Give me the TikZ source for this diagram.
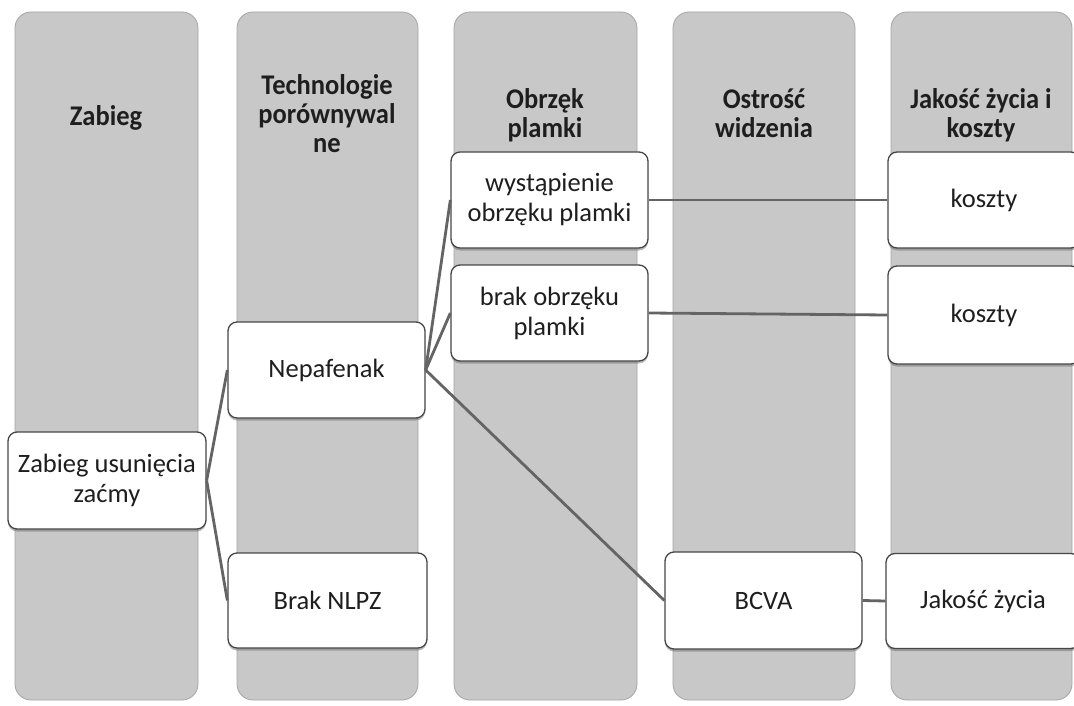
\documentclass[tikz,border=0pt]{standalone}
\usepackage{fontspec}
\setmainfont{Carlito}
\newfontfamily\headfont[FakeStretch=0.93]{Carlito}
\usetikzlibrary{shadows}
\definecolor{colfill}{RGB}{200,200,200}
\definecolor{colborder}{RGB}{165,165,165}
\definecolor{boxborder}{RGB}{70,70,70}
\definecolor{linkcol}{RGB}{100,100,100}
\definecolor{txt}{RGB}{30,30,30}
\tikzset{
  colbox/.style={fill=colfill, draw=colborder, line width=0.8pt, rounded corners=16pt},
  head/.style={font=\headfont\fontsize{28.5}{29}\selectfont\bfseries, text=txt, align=center, anchor=base, inner sep=0pt},
  itembox/.style={draw=boxborder, fill=white, line width=1.3pt, rounded corners=9pt,
    font=\fontsize{26.5}{30}\selectfont, text=txt, align=center, inner sep=2pt,
    drop shadow={shadow xshift=0pt, shadow yshift=-2.5pt, opacity=0.45, fill=black!60}},
  link/.style={draw=linkcol, line width=2.8pt}
}
\begin{document}
\begin{tikzpicture}[x=1pt,y=-1pt]
\useasboundingbox (0,0) rectangle (1074,706);
\clip (0,0) rectangle (1074,706);
\fill[white] (0,0) rectangle (1074,706);
% columns
\draw[colbox] (15,12) rectangle (198,700);
\draw[colbox] (237,12) rectangle (418,700);
\draw[colbox] (454,12) rectangle (637,700);
\draw[colbox] (673,12) rectangle (855,700);
\draw[colbox] (891,12) rectangle (1072,700);
% headers (base anchor = baseline of the last line)
\node[head] (h1) at (106,126) {Zabieg};
\node[head] (h2) at (327,153) {Technologie\\porównywal\\ne};
\node[head] (h3) at (545,138) {Obrzęk\\plamki};
\node[head] (h4) at (764,138) {Ostrość\\widzenia};
\node[head] (h5) at (981,138) {Jakość życia i\\koszty};
% item boxes
\node[itembox, minimum width=198pt, minimum height=97pt] (zab) at (107,480.5) {Zabieg usunięcia\\zaćmy};
\node[itembox, minimum width=197pt, minimum height=96pt] (nep) at (326.5,370) {Nepafenak};
\node[itembox, minimum width=199pt, minimum height=95pt] (brak) at (327.5,600.5) {Brak NLPZ};
\node[itembox, minimum width=197pt, minimum height=96pt] (wys) at (549.5,200) {wystąpienie\\obrzęku plamki};
\node[itembox, minimum width=197pt, minimum height=96pt] (bo) at (549.5,313) {brak obrzęku\\plamki};
\node[itembox, minimum width=192pt, minimum height=96pt] (k1) at (984,200) {koszty};
\node[itembox, minimum width=192pt, minimum height=98pt] (k2) at (984,315) {koszty};
\node[itembox, minimum width=197pt, minimum height=97pt] (bcva) at (763.5,600.5) {BCVA};
\node[itembox, minimum width=194pt, minimum height=95pt] (jz) at (983,601) {Jakość życia};
% connectors
\draw[link] (zab.east) -- (nep.west);
\draw[link] (zab.east) -- (brak.west);
\draw[link] (nep.east) -- (wys.west);
\draw[link] (nep.east) -- (bo.west);
\draw[link] (nep.east) -- (bcva.west);
\draw[link] (wys.east) -- (k1.west);
\draw[link] (bo.east) -- (k2.west);
\draw[link] (bcva.east) -- (jz.west);
\end{tikzpicture}
\end{document}
